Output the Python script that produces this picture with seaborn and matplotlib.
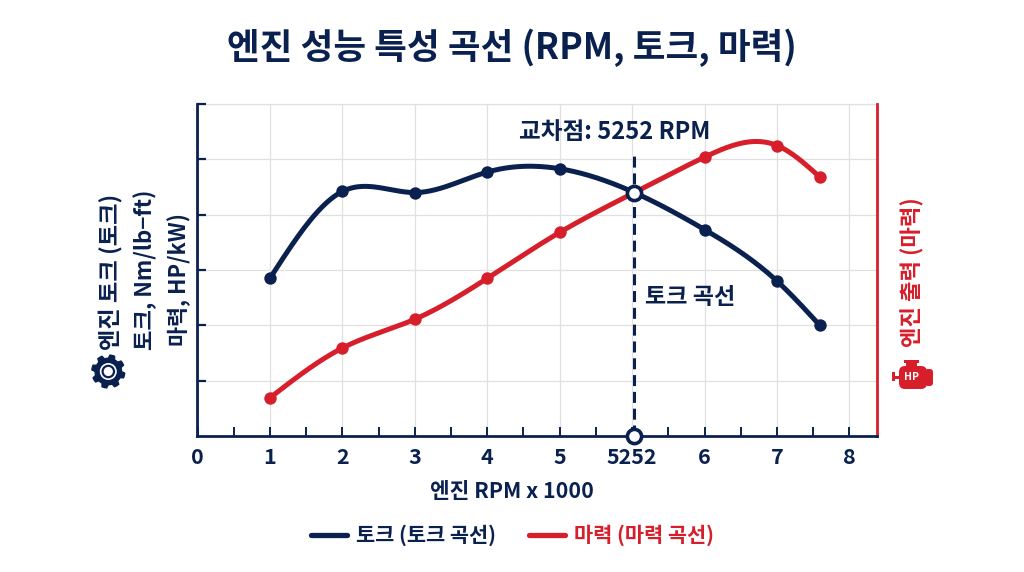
import numpy as np
import pandas as pd
import matplotlib
matplotlib.use("Agg")
import matplotlib.pyplot as plt
from matplotlib.lines import Line2D
from matplotlib.patches import Circle, FancyBboxPatch, Polygon, Rectangle
import seaborn as sns

# Axis layout: tick slots along the RPM axis, with 5252 given its own slot
x_slots = [0, 1, 2, 3, 4, 5, 6, 7, 8, 9]
x_labels = ["0", "1", "2", "3", "4", "5", "5252", "6", "7", "8"]

# Measured curve values (y in gridline units)
sample_x = [1, 2, 3, 4, 5, 6.03, 7, 8, 8.59]
torque = [2.85, 4.42, 4.40, 4.77, 4.83, 4.40, 3.73, 2.80, 2.00]
power = [0.69, 1.59, 2.11, 2.85, 3.68, 4.40, 5.04, 5.25, 4.68]
cross_x = 6.03
cross_y = 4.40

NAVY = "#0a2150"
RED = "#d61f2b"
GRID = "#e0e0e0"


def natural_spline(x, y, n=400):
    """Natural cubic spline through (x, y), returned on a dense grid."""
    x = np.asarray(x, float)
    y = np.asarray(y, float)
    h = np.diff(x)
    m = len(x)
    A = np.zeros((m, m))
    b = np.zeros(m)
    A[0, 0] = A[-1, -1] = 1
    for i in range(1, m - 1):
        A[i, i - 1] = h[i - 1]
        A[i, i] = 2 * (h[i - 1] + h[i])
        A[i, i + 1] = h[i]
        b[i] = 6 * ((y[i + 1] - y[i]) / h[i] - (y[i] - y[i - 1]) / h[i - 1])
    c = np.linalg.solve(A, b)
    xs = np.linspace(x[0], x[-1], n)
    k = np.clip(np.searchsorted(x, xs) - 1, 0, m - 2)
    t0 = x[k + 1] - xs
    t1 = xs - x[k]
    ys = (c[k] * t0**3 + c[k + 1] * t1**3) / (6 * h[k]) \
        + (y[k] / h[k] - c[k] * h[k] / 6) * t0 \
        + (y[k + 1] / h[k] - c[k + 1] * h[k] / 6) * t1
    return xs, ys


sns.set_theme(style="white")
plt.rcParams["font.family"] = ["Noto Sans CJK KR", "DejaVu Sans"]
plt.rcParams["font.weight"] = "bold"

fig = plt.figure(figsize=(10.24, 5.72), dpi=100, facecolor="white")
ax = fig.add_axes([197 / 1024, 1 - 436 / 572, 680 / 1024, 332 / 572])

# Smoothed curves and their sample markers
for values, colour in ((torque, NAVY), (power, RED)):
    xs, ys = natural_spline(sample_x, values)
    sns.lineplot(data=pd.DataFrame({"x": xs, "y": ys}), x="x", y="y", ax=ax,
                 color=colour, linewidth=3.6, errorbar=None, zorder=4,
                 solid_capstyle="round")
    pts = pd.DataFrame({"x": sample_x, "y": values})
    pts = pts[pts["x"] != cross_x]
    sns.scatterplot(data=pts, x="x", y="y", ax=ax, color=colour, s=80,
                    linewidth=0, zorder=5, legend=False)

# Crossover guide and open markers
ax.plot([cross_x, cross_x], [0, 5.1], color=NAVY, lw=2.2, ls=(0, (3.6, 1.9)), zorder=3)
sns.scatterplot(x=[cross_x, cross_x], y=[cross_y, 0], ax=ax, s=105, color="white",
                edgecolor=NAVY, linewidth=2.6, zorder=6, clip_on=False, legend=False)

ax.set_xlim(-0.007, 9.38)
ax.set_ylim(0, 6)
ax.set_xlabel("")
ax.set_ylabel("")
ax.set_xticks(x_slots)
ax.set_xticklabels(x_labels, fontsize=15.5, color=NAVY, fontweight="bold")
ax.set_xticks(np.arange(0.5, 9.5, 1), minor=True)
ax.set_yticks([1, 2, 3, 4, 5, 6])
ax.set_yticklabels([])
ax.grid(True, color=GRID, linewidth=0.9)
ax.set_axisbelow(True)
ax.tick_params(axis="x", which="both", direction="in", length=6.5, width=1.4,
               color=NAVY, bottom=True, pad=8)
ax.tick_params(axis="y", direction="in", length=6.5, width=1.6, color=NAVY, left=True)
ax.spines["left"].set(color=NAVY, linewidth=2)
ax.spines["bottom"].set(color=NAVY, linewidth=2)
ax.spines["right"].set(color=RED, linewidth=2)
ax.spines["top"].set(color=GRID, linewidth=0.9, zorder=0.4)

# Overlay in pixel coordinates for titles, side labels and icons
ov = fig.add_axes([0, 0, 1, 1], zorder=10)
ov.set_xlim(0, 1024)
ov.set_ylim(572, 0)
ov.axis("off")
ov.patch.set_alpha(0)


def label(x, y, s, size, colour=NAVY, rot=0):
    ov.text(x, y, s, fontsize=size, color=colour, rotation=rot, ha="center",
            va="center", fontweight="bold")


label(512, 48, "엔진 성능 특성 곡선 (RPM, 토크, 마력)", 25.6)
label(615, 132, "교차점: 5252 RPM", 17)
label(690.5, 298, "토크 곡선", 16.6)
label(511.5, 491, "엔진 RPM x 1000", 15.4)
label(110, 272, "엔진 토크 (토크)", 16.7, rot=90)
label(145, 270, "토크, Nm/lb−ft)", 16, rot=90)
label(179, 279, "마력, HP/kW)", 15.7, rot=90)
label(913, 272, "엔진 출력 (마력)", 16, RED, rot=90)

# Gear icon
cx, cy = 108.3, 371.5
teeth = 8
angles = np.linspace(0, 2 * np.pi, teeth * 8, endpoint=False) + np.pi / teeth / 4
radii = np.where((np.arange(teeth * 8) % 8) < 4, 16.5, 13.2)
ov.add_patch(Polygon(np.c_[cx + radii * np.cos(angles), cy + radii * np.sin(angles)],
                     closed=True, fc=NAVY, ec=NAVY, lw=1, joinstyle="round"))
ov.add_patch(Circle((cx, cy), 8.5, fc="white", ec="none"))
ov.add_patch(Circle((cx, cy), 6.8, fc=NAVY, ec="none"))
ov.add_patch(Circle((cx, cy), 4.6, fc="white", ec="none"))

# Engine icon
ov.add_patch(FancyBboxPatch((899, 366), 28, 23, boxstyle="round,pad=0,rounding_size=6", fc=RED, ec="none"))
ov.add_patch(Rectangle((906, 361), 11, 7, fc=RED, ec="none"))
ov.add_patch(Rectangle((904, 360), 15, 3, fc=RED, ec="none"))
ov.add_patch(Rectangle((893, 375.5), 8, 3, fc=RED, ec="none"))
ov.add_patch(Rectangle((892, 372), 2.5, 9, fc=RED, ec="none"))
ov.add_patch(FancyBboxPatch((925, 369), 8, 17, boxstyle="round,pad=0,rounding_size=3", fc=RED, ec="none"))
ov.text(911.5, 376.5, "HP", fontsize=7.5, color="white", ha="center", va="center", fontweight="bold")

# Legend below the plot
handles = [Line2D([], [], color=NAVY, lw=3.8, solid_capstyle="round"),
           Line2D([], [], color=RED, lw=3.8, solid_capstyle="round")]
leg = fig.legend(handles, ["토크 (토크 곡선)", "마력 (마력 곡선)"], loc="center",
                 bbox_to_anchor=(512.5 / 1024, 1 - 535.5 / 572), ncols=2, frameon=False,
                 handlelength=1.7, handletextpad=0.43, columnspacing=1.6,
                 labelcolor=[NAVY, RED], prop={"weight": "bold", "size": 15})

fig.savefig("out.png", dpi=100, facecolor="white")
